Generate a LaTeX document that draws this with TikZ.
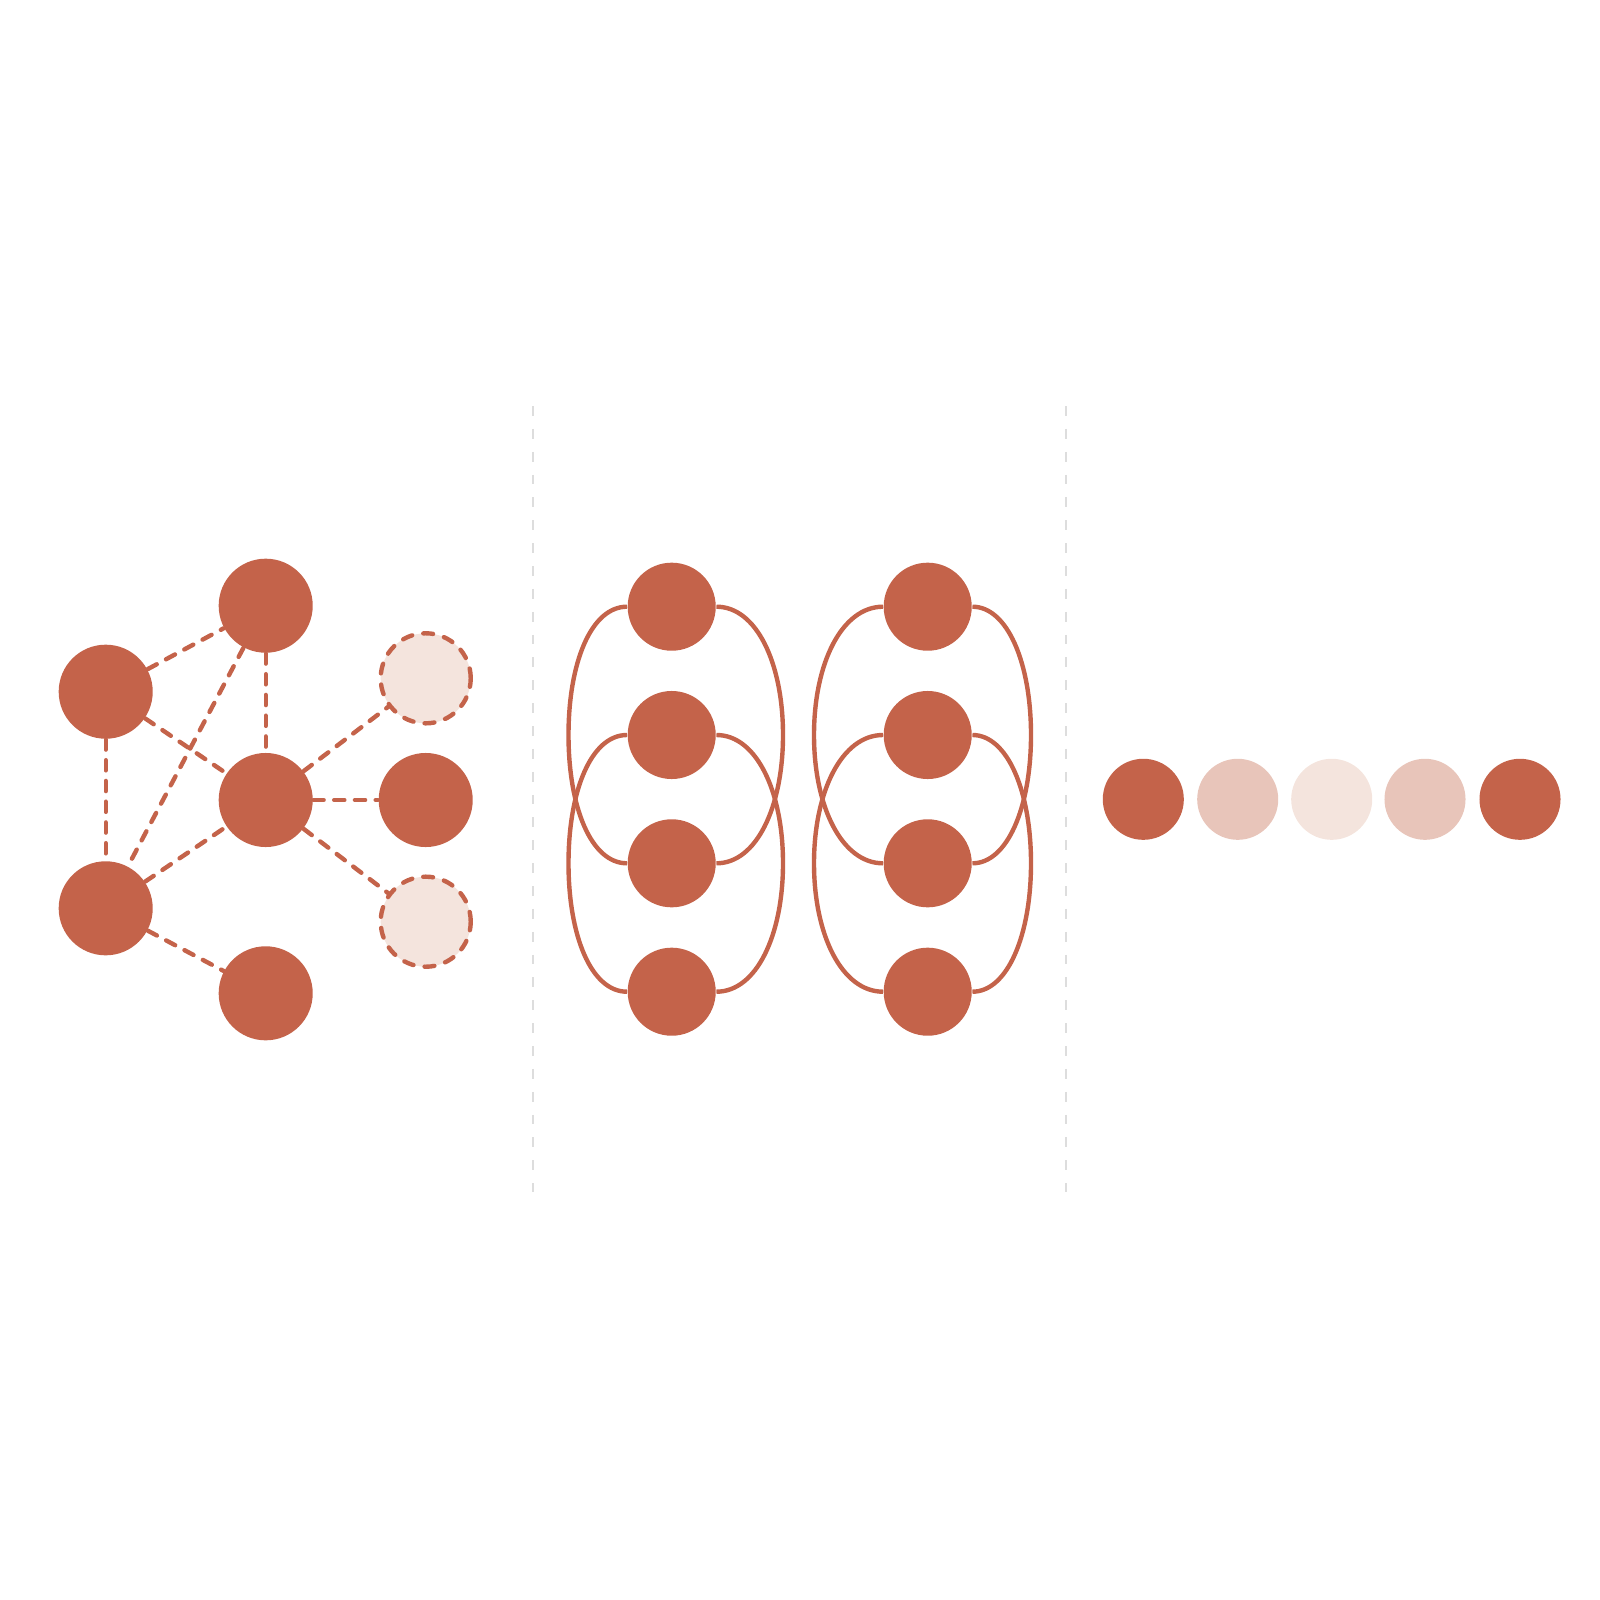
\documentclass[tikz,border=0pt]{standalone}
\usetikzlibrary{backgrounds}
\definecolor{rust}{HTML}{C4634A}
\definecolor{blush}{HTML}{F4E4DD}
\definecolor{rose}{HTML}{E8C5BA}
\definecolor{divgrey}{HTML}{DDDDDD}
\begin{document}
\begin{tikzpicture}[x=0.01cm,y=-0.01cm,
  bignode/.style={circle,fill=rust,inner sep=0pt,minimum size=0.94cm},
  ghostnode/.style={circle,fill=blush,draw=rust,line width=1.25pt,dash pattern=on 2.8pt off 3.2pt,line cap=round,inner sep=0pt,minimum size=0.9cm},
  colnode/.style={circle,fill=rust,inner sep=0pt,minimum size=0.88cm},
  rownode/.style={circle,inner sep=0pt,minimum size=0.81cm},
  link/.style={draw=rust,line width=1.25pt,dash pattern=on 2.9pt off 3.0pt,line cap=round},
  loop/.style={draw=rust,line width=1.25pt},
  divider/.style={draw=divgrey,line width=0.8pt,dash pattern=on 2.8pt off 3.7pt}]
\useasboundingbox (0,0) rectangle (1600,1600);

% left graph
\node[bignode] (A) at (265.7,605.7) {};
\node[bignode] (B) at (105.7,691.7) {};
\node[bignode] (C) at (265.7,800) {};
\node[bignode] (D) at (105.7,908.3) {};
\node[bignode] (E) at (265.7,993.3) {};
\node[ghostnode] (F) at (425.7,678.3) {};
\node[bignode] (G) at (425.7,800) {};
\node[ghostnode] (H) at (425.7,921.7) {};
\begin{scope}[on background layer]
\draw[link] (B) -- (A);
\draw[link] (A) -- (D);
\draw[link] (A) -- (C);
\draw[link] (B) -- (C);
\draw[link] (B) -- (D);
\draw[link] (D) -- (C);
\draw[link] (D) -- (E);
\draw[link] (C) -- (F);
\draw[link] (C) -- (G);
\draw[link] (C) -- (H);
\end{scope}

% dividers
\coordinate (d1t) at (533,406);
\coordinate (d1b) at (533,1192);
\coordinate (d2t) at (1066,406);
\coordinate (d2b) at (1066,1192);
\draw[divider] (d1t) -- (d1b);
\draw[divider] (d2t) -- (d2b);

% middle columns
\node[colnode] (p1) at (671.7,606.7) {};
\node[colnode] (p2) at (671.7,735) {};
\node[colnode] (p3) at (671.7,863.3) {};
\node[colnode] (p4) at (671.7,991.7) {};
\node[colnode] (q1) at (927.7,606.7) {};
\node[colnode] (q2) at (927.7,735) {};
\node[colnode] (q3) at (927.7,863.3) {};
\node[colnode] (q4) at (927.7,991.7) {};
\coordinate (pAL) at (568.5,735);
\coordinate (pAR) at (783,735);
\coordinate (pBL) at (568.5,863.3);
\coordinate (pBR) at (783,863.3);
\coordinate (qAL) at (814,735);
\coordinate (qAR) at (1031,735);
\coordinate (qBL) at (814,863.3);
\coordinate (qBR) at (1031,863.3);
\begin{scope}[on background layer]
\draw[loop] (p1.west) .. controls +(-36,0) and +(0,-72) .. (pAL) .. controls +(0,72) and +(-36,0) .. (p3.west);
\draw[loop] (p1.east) .. controls +(40,0) and +(0,-72) .. (pAR) .. controls +(0,72) and +(40,0) .. (p3.east);
\draw[loop] (p2.west) .. controls +(-36,0) and +(0,-72) .. (pBL) .. controls +(0,72) and +(-36,0) .. (p4.west);
\draw[loop] (p2.east) .. controls +(40,0) and +(0,-72) .. (pBR) .. controls +(0,72) and +(40,0) .. (p4.east);
\draw[loop] (q1.west) .. controls +(-41,0) and +(0,-72) .. (qAL) .. controls +(0,72) and +(-41,0) .. (q3.west);
\draw[loop] (q1.east) .. controls +(35,0) and +(0,-72) .. (qAR) .. controls +(0,72) and +(35,0) .. (q3.east);
\draw[loop] (q2.west) .. controls +(-41,0) and +(0,-72) .. (qBL) .. controls +(0,72) and +(-41,0) .. (q4.west);
\draw[loop] (q2.east) .. controls +(35,0) and +(0,-72) .. (qBR) .. controls +(0,72) and +(35,0) .. (q4.east);
\end{scope}

% right row
\node[rownode,fill=rust] (r1) at (1143.3,799.3) {};
\node[rownode,fill=rose] (r2) at (1237.7,799.3) {};
\node[rownode,fill=blush] (r3) at (1331.7,799.3) {};
\node[rownode,fill=rose] (r4) at (1425,799.3) {};
\node[rownode,fill=rust] (r5) at (1520,799.3) {};
\end{tikzpicture}
\end{document}
